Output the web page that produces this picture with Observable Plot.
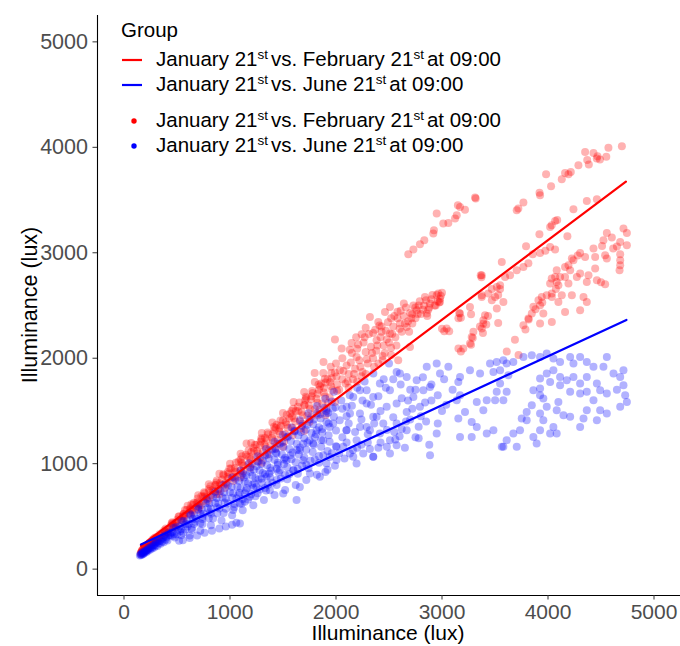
<!DOCTYPE html>
<html>
<head>
<meta charset="utf-8">
<script src="https://cdn.jsdelivr.net/npm/d3@7"></script>
<script src="https://cdn.jsdelivr.net/npm/@observablehq/plot@0.6"></script>
<style>
body{margin:0;background:#fff;font-family:"Liberation Sans",Arial,sans-serif}
#wrap{position:relative;width:680px;height:646px;overflow:hidden}
#wrap svg.plot{position:absolute;left:0;top:0}
.lg{position:absolute;left:156px;font-size:20.5px;line-height:24px;white-space:nowrap;color:#000}
.lg sup{font-size:13.5px;line-height:0;vertical-align:baseline;position:relative;top:-7px;margin-right:3px}
.title{position:absolute;font-size:21px;line-height:18px;color:#000;white-space:nowrap;text-align:center}
#keys{position:absolute;left:0;top:0}
</style>
</head>
<body>
<div id="wrap"></div>
<script>
// ---------- data ----------
const groups = ["January 21st vs. February 21st at 09:00", "January 21st vs. June 21st at 09:00"];
const colors = ["#FF0000", "#0000FF"];
const xTicks = [0, 1000, 2000, 3000, 4000, 5000];
const yTicks = [0, 1000, 2000, 3000, 4000, 5000];
const xDomain = [-250, 5250];
const yDomain = [-250, 5250];
const axisTitle = "Illuminance (lux)";

// fitted (lm) lines
const febFit = [[160, 221], [4735, 3675]];
const junFit = [[160, 234], [4740, 2363]];

// February points (red)
const febCore = [
  [170,178],[240,240],[310,305],[380,368],[450,435],[520,500],[590,560],[660,630],[730,692],[800,760],[870,822],[940,890],[1010,955],[1080,1020],[1150,1085],[1220,1150],[1290,1210],[1360,1280],[1430,1340],[1500,1410],[1570,1475],[1640,1540],[1710,1605],[1780,1670],[1850,1735],[1920,1800],[1990,1865],
  [200,190],[275,255],[345,318],[415,380],[485,442],[555,505],[625,568],[695,630],[765,690],[835,750],[905,815],[975,875],[1045,935],[1115,1000],[1185,1060],[1255,1120],[1325,1185],[1395,1245],[1465,1305],[1535,1370],[1605,1430],[1675,1490],[1745,1552],[1815,1615],[1885,1675],[1955,1735],
  [185,172],[255,232],[330,295],[400,352],[470,412],[540,470],[610,528],[680,585],[750,645],[820,700],[890,760],[960,818],[1030,875],[1100,935],[1170,990],[1240,1050],[1310,1110],[1380,1165],[1450,1225],[1520,1280],[1590,1340],[1660,1400],[1730,1455],[1800,1515],[1870,1570],[1940,1630],[2010,1690],
  [230,210],[310,272],[390,335],[470,395],[550,460],[630,520],[710,585],[790,645],[870,710],[950,770],[1030,835],[1110,895],[1190,960],[1270,1020],[1350,1085],[1430,1145],[1510,1210],[1590,1270],[1670,1335],[1750,1395],[1830,1460],[1910,1520],[1990,1585],
  [1156,1191],[1250,1180],[1330,1245],[1420,1320],[1480,1360],[1560,1430],[1620,1500],[1700,1560],[1770,1640],[1840,1700],[1900,1770],[1960,1810],[1860,1760],[1720,1620],[1580,1500],[1440,1370],[1300,1230],[1200,1110],[1100,1040],[980,920],[860,800],[760,720],[650,610],[560,520],[460,430],[360,345],[280,270],[220,215],[180,170],[160,150],[165,160],[175,185],[195,200],[210,180],
  [700,560],[900,710],[1100,870],[1300,1010],[1500,1160],[1700,1310],[1900,1460],
  [215,215],[275,270],[335,330],[395,385],[455,445],[515,500],[575,560],[635,615],[695,670],[755,730],[815,785],[875,840],[935,900],[995,955],[1055,1010],[1115,1070],[1175,1125],[1235,1180],[1295,1240],[1355,1295],[1415,1350],[1475,1410],[1535,1465],[1595,1520],[1655,1580],[1715,1635],[1775,1690],[1835,1750],[1895,1805],[1955,1860],
  [205,198],[265,250],[325,305],[385,360],[445,415],[505,470],[565,525],[625,578],[685,632],[745,688],[805,742],[865,795],[925,850],[985,905],[1045,958],[1105,1012],[1165,1068],[1225,1120],[1285,1175],[1345,1230],[1405,1285],[1465,1338],[1525,1392],[1585,1447],[1645,1500],[1705,1555],[1765,1610],[1825,1664],[1885,1717],[1945,1772],[2005,1826],
  [215,200],[285,262],[355,322],[425,381],[495,441],[565,502],[635,560],[705,620],[775,680],[845,740],[915,800],[985,860],[1055,920],[1125,980],[1195,1040],[1265,1100],[1335,1160],[1405,1220],[1475,1280],[1545,1340],[1615,1400],[1685,1460],[1755,1518],[1825,1578],[1895,1638],[1965,1698],
  [245,222],[325,287],[405,350],[485,415],[565,480],[645,545],[725,608],[805,672],[885,738],[965,802],[1045,866],[1125,930],[1205,995],[1285,1058],[1365,1124],[1445,1188],[1525,1252],[1605,1316],[1685,1380],[1765,1446],[1845,1510],[1925,1575],
  [600,600],[800,805],[1000,1000],[1200,1195],[1400,1390],[1600,1585],[1800,1775],[1950,1920],[700,700],[900,905],[1100,1095],[1300,1290],[1500,1480],[1700,1680],[1880,1860],
  [158,155],[168,170],[178,180],[190,192],[202,205],[215,222],[228,232],[240,250],[255,262],[268,278],[282,290],[295,300]
];
const febMid = [
  [1799,1861],[1882,1965],[1990,2177],[2053,2092],[2147,2145],[2242,2227],[2320,2392],[2399,2344],[2462,2439],[2509,2486],[2839,2581],[2965,2613],[2981,2534],[2430,2300],[2280,2290],[2190,2200],
  [2037,1886],[2194,2012],[2383,2171],[2509,2234],[2667,2297],[2603,2329],[2761,2455],[2887,2518],[2856,2424],[2981,2565],[2000,1950],[2060,1800],[2100,1930],[2120,1850],[2150,2050],[2180,1900],[2220,1980],[2250,1870],[2280,2060],[2300,1950],[2330,2110],[2350,2000],[2380,2070],[2420,2200],[2450,2120],[2470,2260],[2500,2150],[2540,2300],[2560,2200],[2580,2380],[2620,2250],[2640,2400],[2680,2350],[2700,2430],[2720,2330],[2750,2380],[2780,2500],[2800,2420],[2830,2500],[2870,2460],[2900,2560],[2930,2500],[2950,2600],[2010,1750],[2090,1760],[2160,1800],[2240,1830],[2587,1981],[2698,2107],[2400,1950],[2460,2050],[2520,2100],
  [2030,1700],[2070,1880],[2110,1780],[2140,1960],[2170,1850],[2200,2090],[2230,1920],[2260,2150],[2290,1990],[2310,2230],[2340,2050],[2370,2270],[2390,2120],[2430,2250],[2440,2020],[2480,2180],[2490,2340],[2530,2230],[2550,2400],[2570,2120],[2600,2280],[2610,2450],[2650,2330],[2660,2480],[2690,2250],[2710,2380],[2730,2500],[2770,2420],[2790,2540],[2820,2460],[2850,2550],[2880,2480],[2910,2600],[2960,2540],[3000,2620],[2060,2000],[2130,2080],[2210,2130],[2270,2200],[2350,2240],[2410,2310],[2520,2380],[2580,2440],[2640,2520],[2120,1720],[2200,1780],[2280,1850],[2360,1920],[2440,1980],[2520,2030],
  [3170,2424],[3264,2486],[3155,2380],[3044,2281],[3000,2280],[3201,2092],[3155,2092],[3280,2202],[3264,2140],[3296,2250],[3390,2360],[3375,2281],[3437,2613],[3375,2581],[3365,2787],[3372,2768],[3178,2384],[3162,2430],[3274,2416],[3418,2320],[3434,2400],[2989,2592],[2973,2528],[2861,2400],[2749,2480],[2718,2416],[3021,2256],[3068,2256],[2940,2500],[3178,2063],[3274,2128],[3290,2191],[3386,2240]
];
const febUpper = [
  [2682,2986],[2730,3030],[2792,3081],[2833,3118],[2918,3182],[2924,3213],[3012,3277],[3060,3283],[2950,3372],[3123,3324],[3139,3355],[3170,3434],[3217,3409],[3150,3450],[3312,3523],[3318,3514],
  [3705,3403],[3720,3420],[3768,3476],[3925,3545],[3920,3570],[4029,3630],[3982,3744],[4130,3697],[4161,3757],[4193,3745],[4215,3765],[4287,3829],[4350,3955],[4385,3836],[4370,3880],[4429,3946],[4467,3915],[4460,3895],[4490,3885],[4550,3910],[4570,3997],[4697,4009]
];
const febRight = [
  [4240,3412],[4366,3491],[4461,3507],[4067,3301],[4020,3245],[4087,3310],[4035,3260],[3919,3175],[4183,3156],[3793,3062],[4020,3055],[3975,3020],[3925,2998],[3856,2985],[3564,2913],[3768,2866],[3815,2900],[3705,2834],[3642,2787],[3595,2770],[3548,2692],[3517,2676],[3375,2787],[3375,2597],[3501,2581],[3470,2550],[3579,2534],[3517,2471],[3406,2408],[3390,2329],[3358,2300],[3548,2656],[3530,2600],[3470,2656],[3530,2335],[4067,3030],
  [4712,3229],[4744,3188],[4555,3188],[4602,3144],[4523,3118],[4681,3103],[4744,3071],[4650,3060],[4510,3065],[4539,2976],[4615,3040],[4681,2986],[4681,2929],[4681,2881],[4675,2834],[4555,2945],[4429,3040],[4445,2960],[4350,2960],[4303,2998],[4225,2945],[4280,2975],[4193,2881],[4240,2930],[4161,2866],[4082,2834],[4067,2771],[4114,2771],[4035,2755],[4020,2708],[4082,2724],[4098,2692],[4161,2771],[4209,2834],[4303,2803],[4382,2787],[4445,2850],[4461,2739],[4539,2701],[4500,2720],[4193,2708],[4272,2771],[4366,2724],[4036,2613],[4130,2597],[4225,2597],[4335,2581],[4366,2534],[4303,2455],[4161,2439],[4098,2534],[4036,2580],[3988,2597],[3941,2581],[3910,2550],[3925,2502],[3956,2424],[3862,2487],[3847,2425],[4036,2344],[3925,2329],[3815,2376],[3768,2313],[3688,2175],[3722,2031],[3611,2063],[3787,2272],[3818,2368],[3882,2464],[3946,2528],[4074,2656]
];

// June points (blue)
const junCore = [
  [150,130],[160,140],[165,135],[170,150],[178,142],[185,160],[190,150],[200,165],[210,160],[215,178],[225,172],[235,190],[245,185],[255,200],[265,195],[275,215],[285,205],[300,225],[315,220],[330,245],[345,240],[360,262],[375,255],[395,280],[410,272],
  [155,138],[172,158],[182,148],[195,170],[205,175],[220,185],[232,200],[250,210],[268,225],[282,230],[295,245],[310,255],[325,265],[340,270],[355,285],[370,300],[390,310],[400,300],[420,320],[440,340],
  [420,345],[490,400],[560,455],[630,512],[700,570],[770,625],[840,682],[910,740],[980,795],[1050,852],[1120,908],[1190,965],[1260,1020],[1330,1078],[1400,1135],[1470,1190],[1540,1248],[1610,1305],[1680,1360],[1750,1418],[1820,1475],[1890,1530],[1960,1590],
  [440,322],[510,372],[580,425],[650,475],[720,525],[790,577],[860,628],[930,680],[1000,730],[1070,782],[1140,832],[1210,885],[1280,935],[1350,985],[1420,1038],[1490,1088],[1560,1140],[1630,1190],[1700,1242],[1770,1292],[1840,1345],[1910,1395],[1980,1445],
  [460,315],[530,360],[600,405],[670,450],[740,497],[810,542],[880,587],[950,632],[1020,678],[1090,724],[1160,770],[1230,815],[1300,860],[1370,906],[1440,952],[1510,997],[1580,1042],[1650,1088],[1720,1133],[1790,1180],[1860,1225],[1930,1270],[2000,1315],
  [480,300],[560,345],[640,390],[720,436],[800,482],[880,527],[960,572],[1040,618],[1120,664],[1200,710],[1280,755],[1360,800],[1440,846],[1520,892],[1600,937],[1680,982],[1760,1028],[1840,1074],[1920,1120],[2000,1165],
  [520,270],[620,318],[720,365],[820,415],[920,462],[1020,510],[1120,558],[1220,605],[1320,655],[1420,702],[1520,750],[1620,798],[1720,845],[1820,895],[1920,942],
  [555,275],[620,295],[690,320],[760,345],[830,365],[900,385],[960,405],[1020,420],[1094,433],[1060,440],
  [455,350],[525,405],[595,458],[665,512],[735,566],[805,620],[875,674],[945,728],[1015,782],[1085,836],[1155,890],[1225,943],[1295,997],[1365,1051],[1435,1105],[1505,1159],[1575,1213],[1645,1267],[1715,1321],[1785,1374],[1855,1428],[1925,1482],[1995,1536],
  [470,332],[540,380],[610,429],[680,477],[750,525],[820,574],[890,622],[960,670],[1030,719],[1100,767],[1170,815],[1240,864],[1310,912],[1380,960],[1450,1009],[1520,1057],[1590,1105],[1660,1154],[1730,1202],[1800,1250],[1870,1298],[1940,1347],
  [500,330],[580,378],[660,428],[740,476],[820,525],[900,575],[980,622],[1060,672],[1140,720],[1220,770],[1300,818],[1380,868],[1460,916],[1540,965],[1620,1014],[1700,1062],[1780,1111],[1860,1160],[1940,1208],
  [540,322],[640,374],[740,427],[840,480],[940,533],[1040,586],[1140,640],[1240,692],[1340,745],[1440,798],[1540,852],[1640,904],[1740,957],[1840,1010],[1940,1063],
  [300,255],[380,322],[460,392],[540,460],[620,527],[700,595],[780,663],[860,731],[940,800],[1020,868],[1100,935],[1180,1003],[1260,1071],[1340,1139],[1420,1207],[1500,1275],[1580,1343],[1660,1411],[1740,1479],[1820,1547],[1900,1615],[1980,1683],
  [1080,700],[1150,745],[1210,800],[1270,850],[1330,900],[1390,935],[1450,990],[1510,1040],[1570,1080],[1630,1130],[1690,1190],[1750,1220],[1810,1280],[1870,1330],[1930,1380],[1130,870],[1190,920],[1250,975],[1310,1030],[1370,1090],[1430,1140],[1490,1200],[1550,1260],[1610,1310],[1670,1300],[1730,1370],[1790,1420],[1850,1470],[1910,1500],[1970,1520],[1110,620],[1170,660],[1260,720],[1330,770],[1400,820],[1480,860],[1560,900],[1640,950],[1720,990],[1800,1040],[1880,1080],[1960,1100],[2030,1100],[2080,1050],[1990,980],[1900,920]
];
const junMid = [
  [2289,1697],[2351,1633],[2163,1633],[2100,1539],[2226,1476],[2351,1444],[2289,1349],[2100,1318],[1974,1381],[1911,1476],[1817,1318],[1785,1191],[1880,1223],[2005,1160],[2131,1097],[2194,1002],[2351,1065],[2005,1034],[1911,1002],[1659,1128],[1691,1033],[1754,907],[1848,875],[1596,938],[1533,1033],[1439,1097],[1470,938],[1345,875],[1376,749],[1502,717],[1659,780],[1250,780],[1187,686],[1093,623],[1030,560],[1628,655],
  [2352,1855],[2414,1760],[2509,1697],[2603,1855],[2667,1823],[2761,1791],[2856,1918],[2950,1950],[2981,1855],[2887,1728],[2824,1697],[2730,1633],[2792,1539],[2667,1491],[2572,1570],[2478,1539],[2383,1444],[2289,1570],[2226,1697],[2132,1476],[2226,1349],[2320,1318],[2414,1286],[2509,1223],[2667,1318],[2572,1380],[2446,1380],[2098,1318],[2068,1160],[2163,1065],[2257,1097],[2352,1065],[2509,1097],[2572,1175],[2194,1223],[2035,1412],[2887,1081],[2950,1286],[2572,1870],[2500,1950],[2450,1800],[2700,1700],[2620,1620],[2900,1600],[3000,1500],[2850,1400],[2750,1250],[2650,1150],[2800,1450],[2550,1300],[2400,1150],[2300,1200],[2200,1150],[2100,1450],[2150,1550],[2250,1600],[2050,1600],
  [2060,1250],[2120,1380],[2180,1300],[2240,1420],[2300,1280],[2360,1380],[2420,1500],[2480,1320],[2540,1440],[2600,1260],[2660,1400],[2720,1520],[2780,1350],[2840,1580],[2900,1750],[2960,1650],[3020,1800],[3060,1920],[2060,1520],[2130,1650],[2200,1720],[2270,1780],[2330,1560],[2400,1640],[2470,1720],[2540,1800],[2610,1750],[2680,1600],[2750,1700],[2820,1820],[2100,1200],[2160,1130],[2240,1180],[2320,1140],[2420,1200],[2480,1160],[2560,1230],[2620,1330],[2700,1420],[2780,1240],[2880,1180],[2960,1380],[3040,1560],[3100,1700]
];
const junDome = [
  [3154,1428],[3217,1491],[3280,1396],[3328,1349],[3390,1507],[3422,1602],[3501,1602],[3516,1681],[3548,1760],[3579,1602],[3610,1681],[3626,1838],[3548,1886],[3485,1870],[3359,1855],[3264,1886],[3170,1823],[3154,1775],[3328,1586],[3170,1254],[3280,1254],[3422,1286],[3485,1318],[3139,1602],[3170,1649],[3564,1160],
  [3453,1950],[3516,1965],[3579,1981],[3610,1950],[3673,1965],[3768,2012],[3847,2028],[3925,2012],[3988,2044],[4051,1997],[4114,1965],[4209,2012],[4240,1950],[4303,2012],[4366,1965],[4429,1918],[4523,1918],[4555,2012],[4618,1855],[4712,1886],[4681,1823],[4712,1744],[4728,1649],[4744,1586],[4681,1539],[4650,1700],[4555,1665],[4492,1697],[4461,1760],[4366,1823],[4303,1760],[4240,1823],[4177,1791],[4114,1823],[4051,1886],[3988,1855],[3925,1807],[4020,1775],[4114,1744],[4209,1681],[4303,1665],[4366,1681],[4429,1602],[4492,1507],[4555,1475],[4461,1412],[4366,1507],[4335,1428],[4303,1349],[4209,1444],[4146,1460],[4082,1507],[3988,1539],[3925,1649],[3862,1697],[3956,1618],[4098,1586],[3925,1475],[3956,1412],[4051,1349],[4082,1286],[4020,1286],[3925,1318],[3862,1254],[3893,1191],[3799,1412],[3736,1318],[3673,1286],[3610,1223],[3579,1160],[3705,1160],[3752,1428],[3799,1491],[3847,1554],[3925,1712]
];

// ---------- tables ----------
const toRows = (pts, g) => pts.map(([x, y]) => ({x, y, group: g}));
const febPoints = toRows([...febCore, ...febMid, ...febUpper, ...febRight], groups[0]);
const junPoints = toRows([...junCore, ...junMid, ...junDome], groups[1]);
const fits = [...toRows(febFit, groups[0]), ...toRows(junFit, groups[1])];

const plot = Plot.plot({
  width: 680,
  height: 646,
  marginLeft: 97,
  marginRight: 0,
  marginTop: 15,
  marginBottom: 51,
  style: {fontFamily: "'Liberation Sans', Arial, sans-serif", fontSize: "21px", background: "#fff"},
  x: {domain: xDomain, label: null},
  y: {domain: yDomain, label: null},
  color: {domain: groups, range: colors},
  marks: [
    Plot.dot(febPoints, {x: "x", y: "y", fill: "group", r: 4, fillOpacity: 0.3}),
    Plot.dot(junPoints, {x: "x", y: "y", fill: "group", r: 4, fillOpacity: 0.3}),
    Plot.line(fits, {x: "x", y: "y", z: "group", stroke: "group", strokeWidth: 2.2}),
    Plot.ruleX([xDomain[0]], {stroke: "#000", strokeWidth: 1.1}),
    Plot.ruleY([yDomain[0]], {stroke: "#000", strokeWidth: 1.1}),
    Plot.axisX({ticks: xTicks, tickFormat: d => String(d), tickSize: 4.5, tickPadding: 4, label: null, stroke: "#333", fill: "#4d4d4d", fontSize: 21}),
    Plot.axisY({ticks: yTicks, tickFormat: d => String(d), tickSize: 4.5, tickPadding: 5, label: null, stroke: "#333", fill: "#4d4d4d", fontSize: 21.5})
  ]
});
plot.classList.add("plot");
const wrap = document.getElementById("wrap");
wrap.appendChild(plot);

// axis titles
const xt = document.createElement("div");
xt.className = "title";
xt.textContent = axisTitle;
xt.style.left = (388 - 150) + "px";
xt.style.width = "300px";
xt.style.top = "624px";
wrap.appendChild(xt);

const yt = document.createElement("div");
yt.className = "title";
yt.textContent = axisTitle;
yt.style.width = "300px";
yt.style.height = "18px";
yt.style.fontSize = "21.5px";
yt.style.left = (29.5 - 150) + "px";
yt.style.top = (305 - 9) + "px";
yt.style.transform = "rotate(-90deg)";
wrap.appendChild(yt);

// legend
const sup = s => s.replace(/21st/g, "21<sup>st</sup>").replace(/<\/sup> /g, "</sup>");
const lgTitle = document.createElement("div");
lgTitle.className = "lg";
lgTitle.style.left = "121px";
lgTitle.style.top = "18px";
lgTitle.textContent = "Group";
wrap.appendChild(lgTitle);
const rowTops = [47, 72, 108, 133];
const rowLabels = [groups[0], groups[1], groups[0], groups[1]];
rowLabels.forEach((g, i) => {
  const d = document.createElement("div");
  d.className = "lg";
  d.style.top = rowTops[i] + "px";
  d.innerHTML = sup(g);
  wrap.appendChild(d);
});
const ns = "http://www.w3.org/2000/svg";
const keys = document.createElementNS(ns, "svg");
keys.setAttribute("id", "keys");
keys.setAttribute("width", "160");
keys.setAttribute("height", "160");
[[60, colors[0]], [85, colors[1]]].forEach(([y, c]) => {
  const l = document.createElementNS(ns, "line");
  l.setAttribute("x1", 122); l.setAttribute("x2", 142);
  l.setAttribute("y1", y); l.setAttribute("y2", y);
  l.setAttribute("stroke", c); l.setAttribute("stroke-width", 2.2);
  keys.appendChild(l);
});
[[121, colors[0]], [146, colors[1]]].forEach(([y, c]) => {
  const p = document.createElementNS(ns, "circle");
  p.setAttribute("cx", 134); p.setAttribute("cy", y); p.setAttribute("r", 2.7);
  p.setAttribute("fill", c);
  keys.appendChild(p);
});
wrap.appendChild(keys);
</script>
</body>
</html>
